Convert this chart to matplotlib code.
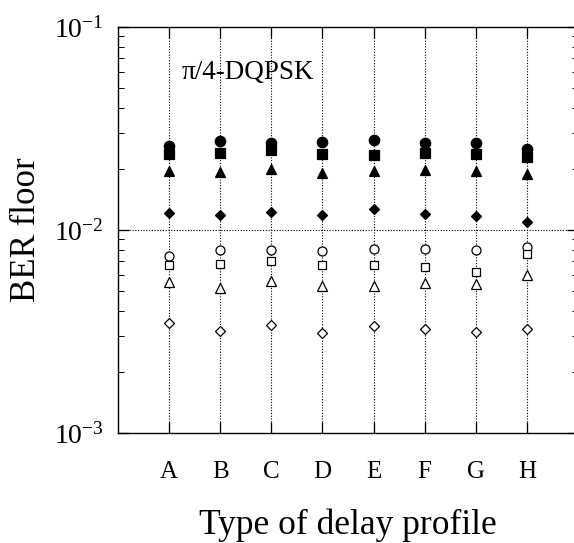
import numpy as np
import matplotlib.pyplot as plt
from matplotlib.ticker import LogLocator, FixedLocator, NullFormatter, FixedFormatter

plt.rcParams['font.family'] = ['Liberation Serif', 'DejaVu Serif']
plt.rcParams['mathtext.fontset'] = 'custom'
plt.rcParams['mathtext.rm'] = 'Liberation Serif'
plt.rcParams['mathtext.it'] = 'Liberation Serif:italic'

profiles = ['A', 'B', 'C', 'D', 'E', 'F', 'G', 'H']

# BER floor per delay profile, filled markers
ber_circle_f = [0.0260, 0.0275, 0.0269, 0.0272, 0.0277, 0.0269, 0.0269, 0.0252]
ber_square_f = [0.0237, 0.0239, 0.0248, 0.0237, 0.0234, 0.0239, 0.0237, 0.0228]
ber_triangle_f = [0.0196, 0.0192, 0.0200, 0.0190, 0.0196, 0.0198, 0.0196, 0.0189]
ber_diamond_f = [0.0121, 0.0118, 0.0123, 0.0119, 0.0127, 0.0120, 0.0117, 0.0109]

# open markers
ber_circle_o = [0.00747, 0.00796, 0.00796, 0.00790, 0.00809, 0.00803, 0.00796, 0.00822]
ber_square_o = [0.00673, 0.00678, 0.00703, 0.00673, 0.00673, 0.00655, 0.00623, 0.00759]
ber_triangle_o = [0.00556, 0.00517, 0.00561, 0.00532, 0.00532, 0.00546, 0.00542, 0.00600]
ber_diamond_o = [0.00349, 0.00317, 0.00342, 0.00310, 0.00337, 0.00325, 0.00316, 0.00324]

series = [
    (ber_circle_f, 'o', True, 7.5),
    (ber_square_f, 's', True, 6.5),
    (ber_triangle_f, '^', True, 7),
    (ber_diamond_f, 'D', True, 5),
    (ber_circle_o, 'o', False, 6.5),
    (ber_square_o, 's', False, 6),
    (ber_triangle_o, '^', False, 6.5),
    (ber_diamond_o, 'D', False, 4.8),
]

x = np.arange(1, len(profiles) + 1)

fig = plt.figure(figsize=(5.74, 5.43), dpi=100)
ax = fig.add_axes([118 / 574, 1 - 433 / 543, 460 / 574, 406 / 543])

for xi in x:
    ax.axvline(xi, color='black', ls=(0, (1, 1.5)), lw=0.8, zorder=1)
ax.axhline(1e-2, color='black', ls=(0, (1, 1.5)), lw=0.8, zorder=1)

for vals, mk, filled, ms in series:
    ax.plot(x, vals, ls='none', marker=mk, ms=ms,
            mfc='black' if filled else 'white', mec='black', mew=0.9, zorder=3)

ax.set_yscale('log')
ax.set_ylim(1e-3, 1e-1)
ax.set_xlim(0, 9)

ax.xaxis.set_major_locator(FixedLocator(x))
ax.xaxis.set_major_formatter(FixedFormatter(profiles))
ax.yaxis.set_major_locator(FixedLocator([1e-3, 1e-2, 1e-1]))
ax.yaxis.set_major_formatter(FixedFormatter([r'$10^{-3}$', r'$10^{-2}$', r'$10^{-1}$']))
ax.yaxis.set_minor_locator(LogLocator(base=10, subs=np.arange(2, 10)))
ax.yaxis.set_minor_formatter(NullFormatter())

ax.tick_params(axis='both', which='both', direction='in', top=True, right=True)
ax.tick_params(axis='x', which='major', length=8, width=0.9, labelsize=18, pad=20.5)
ax.tick_params(axis='y', which='major', length=8, width=0.9, labelsize=20, pad=10)
ax.tick_params(axis='y', which='minor', length=4, width=0.7)

for s in ax.spines.values():
    s.set_linewidth(1.0)

ax.set_xlabel('Type of delay profile', fontsize=25.5, labelpad=18)
ax.set_ylabel('BER floor', fontsize=25, labelpad=8)

ax.text(1.25, 0.0555, 'π/4-DQPSK', fontsize=19.5, va='baseline', ha='left')

fig.savefig('out.png', dpi=100)
